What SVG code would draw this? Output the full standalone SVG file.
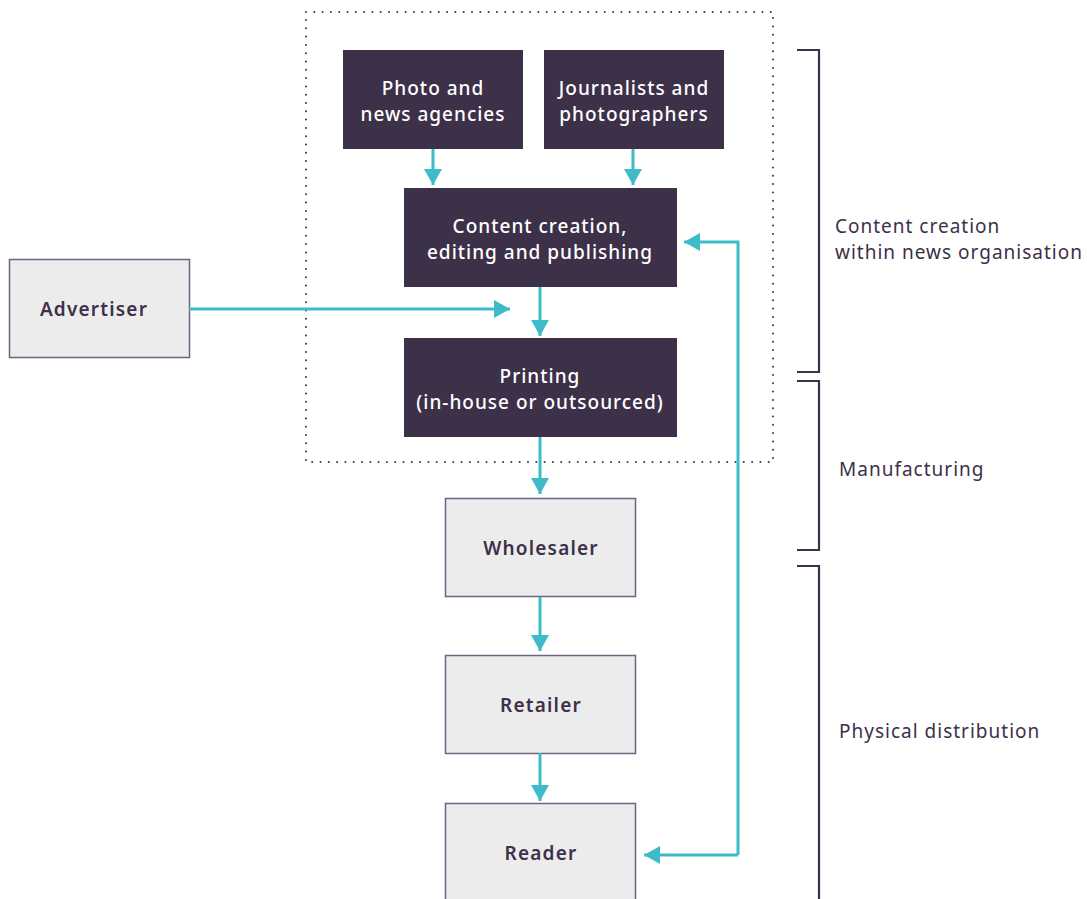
<svg xmlns="http://www.w3.org/2000/svg" width="1087" height="899" viewBox="0 0 1087 899">
<defs>
<marker id="ah" viewBox="0 0 16 18" refX="16" refY="9" markerWidth="16" markerHeight="18" markerUnits="userSpaceOnUse" orient="auto">
<path d="M0,0 L16,9 L0,18 Z" fill="#3dbbc8"/>
</marker>
<style>
.dark{fill:#3d3049}
.light{fill:#ececec;stroke:#6e6580;stroke-width:1.5}
.tw{fill:#ffffff;font-family:"Noto Sans","Liberation Sans",sans-serif;font-size:19px;font-weight:500;text-anchor:middle;letter-spacing:1px}
.td{fill:#3d3049;font-family:"Noto Sans","Liberation Sans",sans-serif;font-size:19px;font-weight:600;text-anchor:middle;letter-spacing:1.2px}
.lab{fill:#3d3049;font-family:"Noto Sans","Liberation Sans",sans-serif;font-size:19px;letter-spacing:1px}
.c{fill:none;stroke:#3dbbc8;stroke-width:3;marker-end:url(#ah)}
.br{fill:none;stroke:#3d3049;stroke-width:2.2}
</style>
</defs>
<rect x="306" y="12" width="467" height="450" fill="none" stroke="#3d3049" stroke-width="2" stroke-dasharray="0 8.3" stroke-linecap="round"/>
<g id="photo"><rect class="dark" x="343" y="50" width="180" height="99"/><text class="tw" x="433" y="95">Photo and</text><text class="tw" x="433" y="121">news agencies</text></g>
<g id="journalists"><rect class="dark" x="544" y="50" width="180" height="99"/><text class="tw" x="634" y="95">Journalists and</text><text class="tw" x="634" y="121">photographers</text></g>
<g id="content"><rect class="dark" x="404" y="188" width="273" height="99"/><text class="tw" x="540" y="233">Content creation,</text><text class="tw" x="540" y="259">editing and publishing</text></g>
<g id="printing"><rect class="dark" x="404" y="338" width="273" height="99"/><text class="tw" x="540" y="383">Printing</text><text class="tw" x="540" y="409">(in-house or outsourced)</text></g>
<g id="advertiser"><rect class="light" x="9.5" y="259.5" width="180" height="98"/><text class="td" x="94" y="316">Advertiser</text></g>
<g id="wholesaler"><rect class="light" x="445.5" y="498.5" width="190" height="98"/><text class="td" x="541" y="555">Wholesaler</text></g>
<g id="retailer"><rect class="light" x="445.5" y="655.5" width="190" height="98"/><text class="td" x="541" y="712">Retailer</text></g>
<g id="reader"><rect class="light" x="445.5" y="803.5" width="190" height="100"/><text class="td" x="541" y="860">Reader</text></g>
<g id="connectors">
<path class="c" d="M433,149 V185"/>
<path class="c" d="M633,149 V185"/>
<path class="c" d="M189,309 H510"/>
<path class="c" d="M540,287 V336"/>
<path class="c" d="M540,437 V494"/>
<path class="c" d="M540,597 V651"/>
<path class="c" d="M540,753 V801"/>
<path class="c" d="M738,855 V242 H684"/>
<path class="c" d="M738,855 H644"/>
</g>
<g id="brackets">
<path class="br" d="M797,50 H819 V372 H797"/>
<path class="br" d="M797,381 H819 V550 H797"/>
<path class="br" d="M797,566 H819 V899"/>
<text class="lab" x="835" y="233">Content creation</text>
<text class="lab" x="835" y="259">within news organisation</text>
<text class="lab" x="839" y="476">Manufacturing</text>
<text class="lab" x="839" y="738">Physical distribution</text>
</g>
</svg>
